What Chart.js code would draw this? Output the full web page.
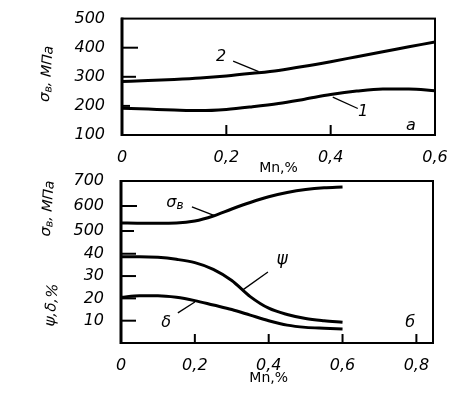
<!DOCTYPE html>
<html><head><meta charset="utf-8">
<script src="https://cdn.jsdelivr.net/npm/chart.js@4/dist/chart.umd.min.js"></script>
<style>
html,body{margin:0;padding:0;background:#fff;}
#wrap{position:relative;width:475px;height:394px;overflow:hidden;}
canvas{position:absolute;left:0;top:0;}
</style></head><body>
<div id="wrap"><canvas id="cA" width="475" height="394"></canvas><canvas id="cB" width="475" height="394"></canvas></div>
<script>
// ---------- panel а (top) ----------
const mnA = [0, 0.05, 0.1, 0.15, 0.2, 0.25, 0.3, 0.35, 0.4, 0.45, 0.5, 0.55, 0.6];
const curve1 = [192, 189, 186, 184, 188, 197, 208, 223, 239, 251, 258, 258, 252];
const curve2 = [284, 287, 291, 296, 303, 312, 322, 336, 352, 369, 386, 403, 420];
const yTicksA = [100, 200, 300, 400, 500];
const xTicksA = [0, 0.2, 0.4, 0.6];

// ---------- panel б (bottom) ----------
const mnB = [0, 0.05, 0.1, 0.15, 0.2, 0.25, 0.3, 0.35, 0.4, 0.45, 0.5, 0.55, 0.6];
const sigmaB = [532, 531, 531, 532, 540, 560, 588, 614, 637, 654, 666, 673, 676]; // MPa
const psiB = [38.7, 38.7, 38.4, 37.5, 36, 33, 28, 20.8, 15.6, 12.8, 11, 10, 9.3];   // %
const deltaB = [20.5, 21.2, 21.2, 20.5, 19, 17, 15, 12.5, 10, 8, 7, 6.6, 6.3];      // %
const pctTicksB = [10, 20, 30, 40];
const mpaTicksB = [500, 600, 700];
const xTicksB = [0, 0.2, 0.4, 0.6, 0.8];

// σв (MPa) is plotted on the same vertical axis as ψ,δ (%): offset scale
const SIG_U0 = 50.2, SIG_K = 0.112;
const sigU = m => SIG_U0 + (m - 500) * SIG_K;

const FAM = "'DejaVu Sans', sans-serif";
const numFont = {family: FAM, size: 16, style: 'italic'};
const fmt = v => v === 0 ? '0' : v.toFixed(1).replace('.', ',');

function line(xs, ys) {
  return {data: xs.map((x, i) => ({x, y: ys[i]})), borderColor: '#000', borderWidth: 3,
          pointRadius: 0, cubicInterpolationMode: 'monotone', fill: false};
}

function drawRuns(ctx, runs, x, y, rot) {
  ctx.save();
  ctx.translate(x, y);
  ctx.rotate(rot);
  let total = 0;
  runs.forEach(r => { ctx.font = 'italic ' + r.size + 'px ' + FAM; total += ctx.measureText(r.t).width; });
  let cx = -total / 2;
  ctx.textBaseline = 'middle';
  ctx.textAlign = 'left';
  runs.forEach(r => {
    ctx.font = 'italic ' + r.size + 'px ' + FAM;
    ctx.fillText(r.t, cx, r.dy || 0);
    cx += ctx.measureText(r.t).width;
  });
  ctx.restore();
}

function decor(cfg) {
  return {
    id: 'decor',
    afterDatasetsDraw(chart) {
      const {ctx, chartArea: a, scales: {x, y}} = chart;
      ctx.save();
      ctx.strokeStyle = '#000';
      ctx.fillStyle = '#000';
      // frame
      ctx.lineWidth = 2;
      ctx.strokeRect(a.left, a.top, a.right - a.left, a.bottom - a.top);
      ctx.lineWidth = 3;
      ctx.beginPath(); ctx.moveTo(a.left, a.top - 1); ctx.lineTo(a.left, a.bottom + 1); ctx.stroke();
      // inner tick marks
      ctx.lineWidth = 2;
      cfg.yMarks.forEach(m => {
        const py = y.getPixelForValue(m.v);
        ctx.beginPath(); ctx.moveTo(a.left, py); ctx.lineTo(a.left + m.len, py); ctx.stroke();
      });
      cfg.xMarks.forEach(v => {
        const px = x.getPixelForValue(v);
        ctx.beginPath(); ctx.moveTo(px, a.bottom); ctx.lineTo(px, a.bottom - cfg.xLen); ctx.stroke();
      });
      // leader lines
      ctx.lineWidth = 1.3;
      cfg.leaders.forEach(l => {
        ctx.beginPath();
        ctx.moveTo(x.getPixelForValue(l[0]), y.getPixelForValue(l[1]));
        ctx.lineTo(x.getPixelForValue(l[2]), y.getPixelForValue(l[3]));
        ctx.stroke();
      });
      // curve labels
      cfg.labels.forEach(l => {
        drawRuns(ctx, l.runs, x.getPixelForValue(l.x), y.getPixelForValue(l.y), 0);
      });
      // y titles
      cfg.yTitles.forEach(t => {
        drawRuns(ctx, t.runs, t.px, y.getPixelForValue(t.y), -Math.PI / 2 + 0.08);
      });
      // x title
      ctx.font = '14px ' + FAM;
      ctx.textAlign = 'center';
      ctx.textBaseline = 'middle';
      ctx.fillText(cfg.xTitle.t, x.getPixelForValue(cfg.xTitle.x), a.bottom + cfg.xTitle.dy);
      ctx.restore();
    }
  };
}

const sigmaRuns = [{t: 'σ', size: 15}, {t: 'в', size: 11, dy: 3}, {t: ', МПа', size: 14}];

function baseOptions(pad, yW, xMin, xMax, xTicks, yMin, yMax) {
  return {
    responsive: false, animation: false, devicePixelRatio: 1,
    layout: {padding: pad},
    plugins: {legend: {display: false}, tooltip: {enabled: false}},
    scales: {
      x: {type: 'linear', min: xMin, max: xMax,
          afterBuildTicks: s => { s.ticks = xTicks.map(v => ({value: v})); },
          ticks: {callback: v => fmt(v), font: numFont, color: '#000', padding: 5, maxRotation: 0, autoSkip: false},
          grid: {display: false}, border: {display: false},
          afterFit: s => { s.height = 30; }},
      y: {type: 'linear', min: yMin, max: yMax,
          ticks: {font: numFont, color: '#000', padding: 9, autoSkip: false},
          grid: {display: false}, border: {display: false},
          afterFit: s => { s.width = yW; }}
    }
  };
}

// ---- chart а ----
const optA = baseOptions({left: 0, top: 12, right: 40, bottom: 229}, 122, 0, 0.6, xTicksA, 100, 500);
optA.scales.y.afterBuildTicks = s => { s.ticks = yTicksA.map(v => ({value: v})); };
new Chart(document.getElementById('cA'), {
  type: 'line',
  data: {datasets: [line(mnA, curve1), line(mnA, curve2)]},
  options: optA,
  plugins: [decor({
    yMarks: [{v: 200, len: 8}, {v: 300, len: 14}, {v: 400, len: 16}],
    xMarks: [0.2, 0.4], xLen: 10,
    leaders: [[0.213, 354, 0.262, 318], [0.404, 230, 0.452, 191]],
    labels: [
      {x: 0.19, y: 367, runs: [{t: '2', size: 16}]},
      {x: 0.462, y: 181, runs: [{t: '1', size: 16}]},
      {x: 0.554, y: 133, runs: [{t: 'а', size: 16}]}
    ],
    yTitles: [{px: 47, y: 310, runs: sigmaRuns}],
    xTitle: {t: 'Mn,%', x: 0.3, dy: 33}
  })]
});

// ---- chart б ----
const optB = baseOptions({left: 0, top: 181, right: 42, bottom: 21}, 121, 0, 0.845, xTicksB, 0, 72.6);
optB.scales.y.afterBuildTicks = s => {
  s.ticks = pctTicksB.map(v => ({value: v})).concat(mpaTicksB.map(m => ({value: sigU(m)})));
};
optB.scales.y.ticks.callback = (v, i) => i < pctTicksB.length ? String(pctTicksB[i]) : String(mpaTicksB[i - pctTicksB.length]);
new Chart(document.getElementById('cB'), {
  type: 'line',
  data: {datasets: [line(mnB, sigmaB.map(sigU)), line(mnB, psiB), line(mnB, deltaB)]},
  options: optB,
  plugins: [decor({
    yMarks: [{v: 10, len: 15}, {v: 20, len: 15}, {v: 30, len: 15}, {v: 40, len: 15},
             {v: sigU(500), len: 13}, {v: sigU(600), len: 16}],
    xMarks: [0.2, 0.4, 0.6, 0.8], xLen: 9,
    leaders: [[0.192, 61, 0.255, 57], [0.398, 31.8, 0.330, 23.8], [0.154, 13.5, 0.2, 18.4]],
    labels: [
      {x: 0.146, y: 62.8, runs: [{t: 'σ', size: 16}, {t: 'в', size: 12, dy: 3}]},
      {x: 0.436, y: 37.2, runs: [{t: 'ψ', size: 17}]},
      {x: 0.122, y: 9, runs: [{t: 'δ', size: 16}]},
      {x: 0.783, y: 9, runs: [{t: 'б', size: 16}]}
    ],
    yTitles: [{px: 48, y: sigU(590), runs: sigmaRuns},
              {px: 52, y: 17, runs: [{t: 'ψ,δ,%', size: 15}]}],
    xTitle: {t: 'Mn,%', x: 0.4, dy: 35}
  })]
});
</script>
</body></html>
